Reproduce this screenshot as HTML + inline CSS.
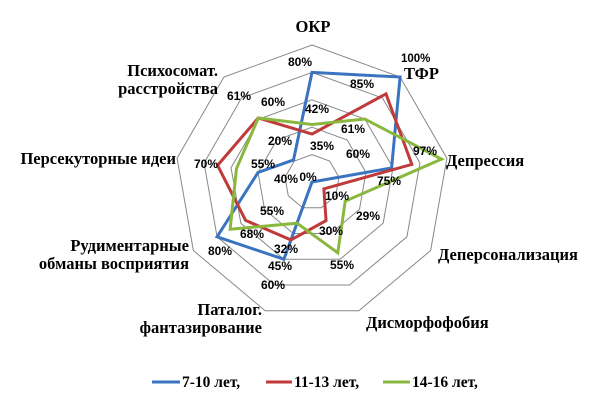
<!DOCTYPE html>
<html><head><meta charset="utf-8"><style>
body{margin:0;background:#fff;width:600px;height:402px;overflow:hidden}
svg text{font-family:"Liberation Serif",serif;font-weight:bold}
.p{font-family:"Liberation Sans",sans-serif;font-size:12px;font-weight:bold;text-anchor:middle;dominant-baseline:middle}
.c{font-size:16.5px}
</style></head><body>
<svg id="chart" width="600" height="402">
<g id="rings"></g><g id="series"></g>
<g>
<text class="c" x="313" y="32" text-anchor="middle">ОКР</text>
<text class="c" x="404" y="79">ТФР</text>
<text x="401" y="62" style="font-family:'Liberation Sans',sans-serif;font-size:11.5px">100%</text>
<text class="c" x="446" y="166">Депрессия</text>
<text class="c" x="438" y="260">Деперсонализация</text>
<text class="c" x="366" y="328">Дисморфофобия</text>
<text class="c" x="262" y="315" text-anchor="end">Паталог.</text>
<text class="c" x="262" y="333" text-anchor="end">фантазирование</text>
<text class="c" x="189" y="251" text-anchor="end">Рудиментарные</text>
<text class="c" x="189" y="269" text-anchor="end">обманы восприятия</text>
<text class="c" x="176" y="164" text-anchor="end">Персекуторные идеи</text>
<text class="c" x="218" y="76" text-anchor="end">Психосомат.</text>
<text class="c" x="218" y="94" text-anchor="end">расстройства</text>
</g>
<g id="vl"></g>
<g>
<line x1="152" y1="382" x2="180" y2="382" stroke="#3a74c0" stroke-width="3"/>
<text x="182" y="387" font-size="15.5">7-10 лет,</text>
<line x1="266" y1="382" x2="292" y2="382" stroke="#c03a3a" stroke-width="3"/>
<text x="294" y="387" font-size="15.5">11-13 лет,</text>
<line x1="383" y1="382" x2="410" y2="382" stroke="#8ab83e" stroke-width="3"/>
<text x="412" y="387" font-size="15.5">14-16 лет,</text>
</g>
</svg>
<script>
const categories=["ОКР","ТФР","Депрессия","Деперсонализация","Дисморфофобия","Паталог. фантазирование","Рудиментарные обманы восприятия","Персекуторные идеи","Психосомат. расстройства"];
const blue=[0.80,1.00,0.59,0,0,0.60,0.80,0.40,0.21];
const red=[0.35,0.84,0.74,0.10,0.30,0.45,0.56,0.70,0.61];
const green=[0.42,0.60,0.96,0.28,0.55,0.32,0.69,0.56,0.61];
const labelTexts=["80%","85%","42%","61%","60%","61%","20%","35%","60%","97%","70%","55%","40%","0%","75%","10%","29%","55%","30%","68%","32%","80%","45%","55%","60%"];
const labelPos=[[300,63],[362,85],[317,110],[239,97],[273,103],[353,130],[280,142],[322,147],[358,155],[425,152],[206,165],[263,165],[286,180],[308,178],[389,182],[337,197],[368,217],[272,212],[331,232],[252,235],[286,250],[220,252],[280,267],[342,266],[273,286]];
const cx=312,cy=182,R=137,N=categories.length;
const ns="http://www.w3.org/2000/svg";
function pt(i,v){const a=i*2*Math.PI/N;return [cx+R*v*Math.sin(a),cy-R*v*Math.cos(a)];}
const rg=document.getElementById('rings');
for(let k=1;k<=5;k++){const p=document.createElementNS(ns,'polygon');
p.setAttribute('points',categories.map((c,i)=>pt(i,k/5).join(',')).join(' '));
p.setAttribute('fill','none');p.setAttribute('stroke','#888');p.setAttribute('stroke-width','1');


rg.appendChild(p);}
const sg=document.getElementById('series');
[[blue,'#3a74c0','series-7-10'],[red,'#c03a3a','series-11-13'],[green,'#8ab83e','series-14-16']].forEach(([d,col,n])=>{
const p=document.createElementNS(ns,'polygon');
p.setAttribute('points',d.map((v,i)=>pt(i,v).join(',')).join(' '));
p.setAttribute('fill','none');p.setAttribute('stroke',col);p.setAttribute('stroke-width','3');p.setAttribute('stroke-linejoin','miter');


sg.appendChild(p);});
const vl=document.getElementById('vl');
labelTexts.forEach((t,i)=>{const e=document.createElementNS(ns,'text');e.setAttribute('class','p');
e.setAttribute('x',labelPos[i][0]);e.setAttribute('y',labelPos[i][1]);e.textContent=t;


vl.appendChild(e);});
</script>
</body></html>
